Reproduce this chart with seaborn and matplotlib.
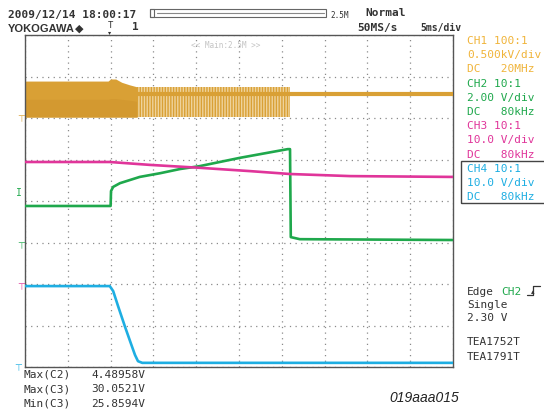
"""
Oscilloscope capture (Yokogawa) redrawn with seaborn: 4 channels, 5 ms/div.
"""

import matplotlib.pyplot as plt
import pandas as pd
import seaborn as sns
from matplotlib.lines import Line2D
from matplotlib.patches import Rectangle

# time in ms (5 ms/div, 10 div), levels in screen divisions (0 = bottom, 8 = top)
ch1_band_t = [0.0, 9.7, 10.0, 10.6, 11.3, 12.2, 13.1]
ch1_band_top = [6.89, 6.89, 6.94, 6.94, 6.86, 6.80, 6.75]
ch1_band_bot = [6.02, 6.02, 6.02, 6.02, 6.02, 6.02, 6.02]
ch1_band_mid = [6.45, 6.45, 6.47, 6.47, 6.45, 6.43, 6.40]
ch1_burst_t = [13.1, 31.0]
ch1_burst_top = [6.75, 6.75]
ch1_burst_bot = [6.02, 6.02]
ch1_line_t = [13.1, 31.0, 50.0]
ch1_line_v = [6.58, 6.58, 6.58]

ch2_t = [0.0, 10.0, 10.05, 10.3, 11.1, 13.4, 15.8, 18.1, 20.4, 25.1, 30.7, 30.96, 31.05, 32.1, 50.0]
ch2_v = [3.88, 3.88, 4.24, 4.34, 4.43, 4.58, 4.67, 4.77, 4.84, 5.04, 5.25, 5.25, 3.13, 3.08, 3.06]

ch3_t = [0.0, 9.9, 14.6, 20.4, 26.3, 31.0, 38.0, 50.0]
ch3_v = [4.94, 4.94, 4.87, 4.80, 4.72, 4.65, 4.60, 4.58]

ch4_t = [0.0, 9.9, 10.3, 10.9, 11.7, 12.4, 12.85, 13.2, 13.7, 50.0]
ch4_v = [1.95, 1.95, 1.83, 1.45, 0.96, 0.55, 0.29, 0.14, 0.10, 0.10]

# ground / trigger markers on the left edge (division levels)
gnd_levels = [5.98, 2.92, 1.93, -0.02]
gnd_x = [-0.45, -0.45, -0.45, -0.8]
trig_level = 4.22

ch_info = [
    ["CH1 100:1", "0.500kV/div", "DC   20MHz"],
    ["CH2 10:1", "2.00 V/div", "DC   80kHz"],
    ["CH3 10:1", "10.0 V/div", "DC   80kHz"],
    ["CH4 10:1", "10.0 V/div", "DC   80kHz"],
]
meas_names = ["Max(C2)", "Max(C3)", "Min(C3)"]
meas_vals = ["4.48958V", "30.0521V", "25.8594V"]

ORANGE = "#D9A035"
ORANGE_DK = "#C98D28"
ORANGE_LT = "#EFD39C"
GREEN = "#1FA84C"
MAGENTA = "#E0359A"
CYAN = "#1EAEE2"
TXT = "#333333"
colors = [ORANGE, GREEN, MAGENTA, CYAN]
text_colors = ["#F0B43A", GREEN, MAGENTA, CYAN]

sns.set_style("white")
plt.rcParams["font.family"] = ["DejaVu Sans Mono", "DejaVu Sans"]
plt.rcParams["hatch.linewidth"] = 1.0

W, H = 544, 410
fig = plt.figure(figsize=(W / 100, H / 100), dpi=100)
ax = fig.add_axes([25 / W, 1 - 368 / H, 428 / W, 332 / H])


def px(x, y):
    return x / W, 1 - y / H


# CH1: dense switching band, then burst mode, then idle level
ax.fill_between(ch1_band_t, ch1_band_bot, ch1_band_top, color=ORANGE, lw=0, zorder=2)
ax.fill_between(ch1_band_t, ch1_band_bot, ch1_band_mid, color=ORANGE_DK, alpha=0.35,
                lw=0, zorder=2)
ax.fill_between(ch1_burst_t, ch1_burst_bot, ch1_burst_top, facecolor=ORANGE_LT,
                edgecolor=ORANGE, hatch="||||||", lw=0, zorder=2)
sns.lineplot(x=ch1_line_t, y=ch1_line_v, ax=ax, color=ORANGE, lw=3,
             estimator=None, sort=False, zorder=3)

traces = pd.DataFrame({
    "t": ch2_t + ch3_t + ch4_t,
    "v": ch2_v + ch3_v + ch4_v,
    "ch": ["CH2"] * len(ch2_t) + ["CH3"] * len(ch3_t) + ["CH4"] * len(ch4_t),
})
sns.lineplot(data=traces, x="t", y="v", hue="ch", units="ch",
             palette={"CH2": GREEN, "CH3": MAGENTA, "CH4": CYAN},
             estimator=None, sort=False, lw=1.9, legend=False, ax=ax, zorder=4)

ax.set_xlim(0, 50)
ax.set_ylim(0, 8)
ax.set_xticks(range(0, 51, 5))
ax.set_yticks(range(0, 9))
ax.tick_params(length=0, labelbottom=False, labelleft=False)
ax.set(xlabel="", ylabel="")
ax.grid(True, linestyle=(0, (1, 3.5)), color="#8a8a8a", lw=0.9)
for s in ax.spines.values():
    s.set_color("#555555")
    s.set_linewidth(1.0)

# ground markers
for gx, lvl, c in zip(gnd_x, gnd_levels, colors):
    ax.text(gx, lvl, "⊤", color=c, fontsize=6.5, ha="center", va="center",
            clip_on=False, family="DejaVu Sans")
ax.text(-0.75, trig_level, "I", color=GREEN, fontsize=7, ha="center", va="center",
        clip_on=False)

ax.text(0.47, 0.985, "<< Main:2.5M >>", transform=ax.transAxes, color="#c4c4c4",
        fontsize=5.5, ha="center", va="top")

# header
fig.text(*px(8, 15), "2009/12/14 18:00:17", fontsize=8, weight="bold", color=TXT, va="center")
fig.text(*px(8, 29), "YOKOGAWA", fontsize=8, weight="bold", color=TXT, va="center",
         family="Liberation Sans")
fig.text(*px(75, 29), "◆", fontsize=8, color=TXT, va="center", family="DejaVu Sans")
fig.text(*px(110, 25), "T", fontsize=6.5, color=TXT, va="center", ha="center")
fig.text(*px(110, 32.5), "▾", fontsize=4.5, color=TXT, va="center", ha="center",
         family="DejaVu Sans")
fig.text(*px(135, 27), "1", fontsize=8, weight="bold", color=TXT, va="center", ha="center")
fig.patches.append(Rectangle(px(150, 18), 176 / W, 8 / H, transform=fig.transFigure,
                             fill=False, ec="#666666", lw=0.8))
fig.lines.append(Line2D([157 / W, 324 / W], [1 - 14 / H] * 2, transform=fig.transFigure,
                        color="#888888", lw=0.8))
fig.patches.append(Rectangle(px(150, 18), 4 / W, 8 / H, transform=fig.transFigure,
                             fill=False, ec="#666666", lw=0.8))
fig.text(*px(330, 15), "2.5M", fontsize=5.5, color=TXT, va="center")
fig.text(*px(365, 13), "Normal", fontsize=8, weight="bold", color=TXT, va="center")
fig.text(*px(357, 28), "50MS/s", fontsize=8, weight="bold", color=TXT, va="center")
fig.text(*px(420, 28), "5ms/div", fontsize=7, weight="bold", color=TXT, va="center")

# channel settings
y0 = 41
for i, (lines, c) in enumerate(zip(ch_info, text_colors)):
    for j, s in enumerate(lines):
        fig.text(*px(467, y0 + (3 * i + j) * 14.2), s, fontsize=8, color=c, va="center")
fig.patches.append(Rectangle(px(461, 204), 90 / W, 42 / H, transform=fig.transFigure,
                             fill=False, ec="#444444", lw=1.0))

# trigger info
fig.text(*px(467, 292), "Edge", fontsize=8, color=TXT, va="center")
fig.text(*px(501, 292), "CH2", fontsize=8, color=GREEN, va="center")
fig.lines.append(Line2D([527 / W, 533 / W, 533 / W, 540 / W],
                        [1 - 296 / H, 1 - 296 / H, 1 - 287 / H, 1 - 287 / H],
                        transform=fig.transFigure, color=TXT, lw=0.9))
fig.text(*px(533, 292), "▴", fontsize=5, color=TXT, va="center", ha="center",
         family="DejaVu Sans")
fig.text(*px(467, 305), "Single", fontsize=8, color=TXT, va="center")
fig.text(*px(467, 318), "2.30 V", fontsize=8, color=TXT, va="center")
fig.text(*px(467, 342), "TEA1752T", fontsize=8, color=TXT, va="center")
fig.text(*px(467, 357), "TEA1791T", fontsize=8, color=TXT, va="center")

# measurements
for k, (n, v) in enumerate(zip(meas_names, meas_vals)):
    fig.text(*px(23, 375 + k * 14.5), n, fontsize=8, color=TXT, va="center")
    fig.text(*px(91, 375 + k * 14.5), v, fontsize=8, color=TXT, va="center")

fig.text(*px(424, 398), "019aaa015", fontsize=10, style="italic", color="#222222",
         va="center", ha="center", family="Liberation Sans")

fig.savefig("out.png", dpi=100)
